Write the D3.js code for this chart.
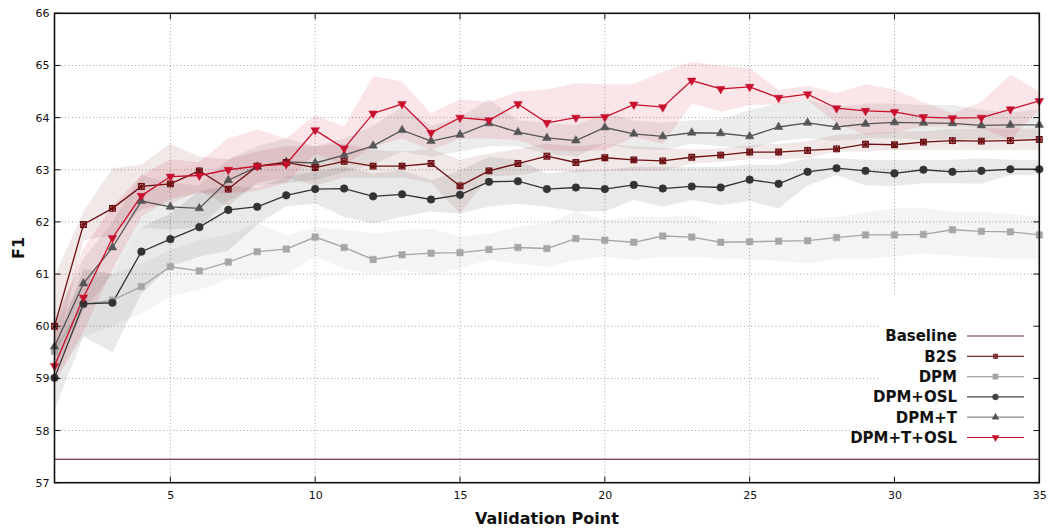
<!DOCTYPE html>
<html><head><meta charset="utf-8">
<script src="https://cdn.jsdelivr.net/npm/d3@7"></script>
<style>
html,body{margin:0;padding:0;background:#fff;}
svg{display:block;}
</style></head>
<body>
<svg id="chart" width="1049" height="529"></svg>
<script>
// ---------------- DATA ----------------
const points = d3.range(1, 36);
const xTicks = [5, 10, 15, 20, 25, 30, 35];
const yTicks = [57, 58, 59, 60, 61, 62, 63, 64, 65, 66];
const seriesNames = ["Baseline", "B2S", "DPM", "DPM+OSL", "DPM+T", "DPM+T+OSL"];

const baselineValue = 57.45;

const b2s = [60.0, 61.95, 62.26, 62.68, 62.73, 62.98, 62.63, 63.07, 63.14, 63.04, 63.16, 63.07, 63.07, 63.12, 62.69, 62.98, 63.12, 63.26, 63.14, 63.23, 63.19, 63.17, 63.24, 63.28, 63.34, 63.34, 63.37, 63.40, 63.49, 63.48, 63.53, 63.56, 63.55, 63.56, 63.58];
const b2sUpper = [60.95, 62.2, 63.03, 63.1, 63.5, 63.25, 63.2, 63.35, 63.45, 63.45, 63.5, 63.38, 63.35, 63.4, 63.19, 63.31, 63.4, 63.5, 63.45, 63.5, 63.45, 63.42, 63.39, 63.41, 63.47, 63.5, 63.55, 63.67, 63.7, 63.73, 63.74, 63.78, 63.79, 63.79, 63.79];
const b2sLower = [59.35, 61.65, 61.75, 62.25, 62.35, 62.6, 62.3, 62.75, 62.85, 62.7, 62.85, 62.85, 62.85, 62.75, 62.16, 62.87, 62.9, 62.99, 62.95, 62.98, 62.98, 62.98, 63.12, 63.15, 63.2, 63.2, 63.22, 63.35, 63.35, 63.38, 63.38, 63.38, 63.38, 63.38, 63.38];

const dpm = [59.52, 60.42, 60.50, 60.76, 61.14, 61.06, 61.23, 61.43, 61.48, 61.71, 61.51, 61.28, 61.37, 61.40, 61.41, 61.47, 61.51, 61.49, 61.68, 61.65, 61.61, 61.73, 61.71, 61.61, 61.62, 61.63, 61.64, 61.70, 61.75, 61.75, 61.76, 61.85, 61.82, 61.81, 61.75];
const dpmUpper = [60.0, 60.9, 61.0, 61.2, 61.46, 61.65, 61.75, 61.97, 61.75, 61.9, 61.85, 61.78, 61.84, 61.87, 61.72, 61.78, 61.91, 61.97, 62.2, 62.03, 62.1, 62.1, 62.13, 61.97, 62.0, 62.0, 62.05, 62.1, 62.18, 62.26, 62.26, 62.2, 62.2, 62.15, 62.1];
const dpmLower = [59.0, 59.8, 60.0, 60.25, 60.57, 60.7, 60.9, 60.9, 61.0, 61.33, 61.1, 61.01, 61.08, 60.98, 61.11, 61.27, 61.2, 61.14, 61.27, 61.33, 61.27, 61.33, 61.33, 61.3, 61.28, 61.25, 61.2, 61.3, 61.3, 61.33, 61.4, 61.35, 61.32, 61.3, 61.3];

const dpmOsl = [59.01, 60.43, 60.45, 61.43, 61.67, 61.90, 62.23, 62.29, 62.51, 62.63, 62.64, 62.49, 62.53, 62.43, 62.52, 62.77, 62.78, 62.63, 62.66, 62.63, 62.71, 62.64, 62.68, 62.66, 62.81, 62.73, 62.96, 63.03, 62.98, 62.93, 63.00, 62.96, 62.98, 63.01, 63.01];
const dpmOslUpper = [59.6, 61.1, 61.0, 61.9, 62.16, 62.6, 62.7, 62.65, 62.87, 62.96, 63.06, 62.93, 62.99, 62.8, 62.99, 63.25, 63.19, 62.93, 62.99, 62.99, 63.06, 63.06, 63.06, 63.06, 63.1, 63.1, 63.22, 63.22, 63.19, 63.19, 63.19, 63.19, 63.22, 63.19, 63.19];
const dpmOslLower = [58.4, 59.8, 59.5, 60.63, 61.15, 61.33, 61.45, 61.95, 62.3, 62.35, 62.1, 61.97, 62.1, 62.2, 62.16, 62.29, 62.35, 62.29, 62.2, 62.2, 62.42, 62.29, 62.42, 62.32, 62.4, 62.26, 62.7, 62.9, 62.7, 62.69, 62.74, 62.74, 62.73, 62.9, 62.9];

const dpmT = [59.61, 60.82, 61.51, 62.40, 62.29, 62.26, 62.80, 63.06, 63.15, 63.13, 63.28, 63.46, 63.76, 63.55, 63.67, 63.89, 63.72, 63.61, 63.56, 63.81, 63.69, 63.64, 63.71, 63.70, 63.64, 63.82, 63.90, 63.82, 63.88, 63.91, 63.90, 63.89, 63.85, 63.86, 63.86];
const dpmTUpper = [60.1, 61.3, 62.0, 62.9, 62.75, 62.7, 63.2, 63.45, 63.6, 63.45, 63.6, 63.85, 64.2, 63.85, 64.0, 64.35, 63.95, 63.9, 63.85, 64.1, 63.95, 63.9, 63.95, 63.97, 64.15, 64.27, 64.34, 64.2, 64.27, 64.27, 64.24, 64.24, 64.15, 64.1, 64.15];
const dpmTLower = [59.1, 60.3, 61.0, 61.9, 61.85, 61.9, 62.4, 62.7, 62.75, 62.8, 62.95, 63.1, 63.35, 63.25, 63.35, 63.45, 63.45, 63.3, 63.25, 63.5, 63.4, 63.38, 63.5, 63.45, 63.4, 63.55, 63.6, 63.55, 63.6, 63.6, 63.58, 63.58, 63.58, 63.6, 63.6];

const dpmTOsl = [59.24, 60.55, 61.69, 62.50, 62.87, 62.89, 63.00, 63.07, 63.11, 63.76, 63.41, 64.08, 64.26, 63.71, 64.00, 63.95, 64.26, 63.90, 64.00, 64.01, 64.25, 64.20, 64.71, 64.55, 64.59, 64.38, 64.45, 64.18, 64.13, 64.11, 64.01, 63.99, 64.00, 64.16, 64.32];
const dpmTOslUpper = [60.0, 61.5, 62.3, 62.9, 63.2, 63.15, 63.6, 63.77, 63.6, 64.05, 63.83, 64.8, 64.69, 64.08, 64.35, 64.3, 64.5, 64.54, 64.66, 64.64, 64.64, 64.88, 65.07, 64.99, 64.95, 64.53, 64.61, 64.47, 64.64, 64.54, 64.3, 64.08, 64.3, 64.82, 64.5];
const dpmTOslLower = [58.9, 59.9, 61.1, 62.1, 62.45, 62.55, 62.55, 62.6, 62.75, 63.3, 63.1, 63.44, 63.6, 63.38, 63.6, 63.6, 63.57, 63.38, 63.35, 63.38, 63.63, 63.5, 64.27, 64.11, 64.24, 64.25, 64.34, 63.89, 63.67, 63.72, 63.83, 63.83, 63.8, 63.57, 64.15];

// ---------------- LAYOUT ----------------
const L = 54.5, R = 1039.3, T = 13.3, B = 482.7;
const svg = d3.select("#chart");
const x = d3.scaleLinear().domain([1, 35]).range([L, R]);
const y = d3.scaleLinear().domain([57, 66]).range([B, T]);

// asterisk (box with star) symbol
const asterisk = {
  draw(ctx, size) {
    const r = Math.sqrt(size) / 2;
    const d = r * 0.8;
    ctx.moveTo(-r, 0); ctx.lineTo(r, 0);
    ctx.moveTo(0, -r); ctx.lineTo(0, r);
    ctx.moveTo(-d, -d); ctx.lineTo(d, d);
    ctx.moveTo(-d, d); ctx.lineTo(d, -d);
    ctx.moveTo(-d, -d); ctx.lineTo(d, -d); ctx.lineTo(d, d); ctx.lineTo(-d, d); ctx.closePath();
  }
};

const series = [
  {name: "DPM", vals: dpm, up: dpmUpper, lo: dpmLower, color: "#a6a6a6", band: "#000", bandOp: 0.045, sym: d3.symbolSquare, size: 42, filled: true, rot: 0},
  {name: "DPM+OSL", vals: dpmOsl, up: dpmOslUpper, lo: dpmOslLower, color: "#333333", band: "#000", bandOp: 0.085, sym: d3.symbolCircle, size: 46, filled: true, rot: 0},
  {name: "DPM+T", vals: dpmT, up: dpmTUpper, lo: dpmTLower, color: "#555555", band: "#000", bandOp: 0.075, sym: d3.symbolTriangle, size: 32, filled: true, rot: 0},
  {name: "B2S", vals: b2s, up: b2sUpper, lo: b2sLower, color: "#6e1115", band: "#7a1a1a", bandOp: 0.1, sym: asterisk, size: 52, filled: false, rot: 0},
  {name: "DPM+T+OSL", vals: dpmTOsl, up: dpmTOslUpper, lo: dpmTOslLower, color: "#c8102e", band: "#d0142f", bandOp: 0.11, sym: d3.symbolTriangle, size: 32, filled: true, rot: 180}
];

// ---------------- GRID ----------------
const grid = svg.append("g");
grid.selectAll("line.h").data(yTicks.filter(v => v > 57 && v < 66)).join("line")
  .attr("x1", L).attr("x2", R).attr("y1", d => y(d)).attr("y2", d => y(d))
  .attr("stroke", "#a0a0a0").attr("stroke-width", 1).attr("stroke-dasharray", "1,2.5");
grid.selectAll("line.v").data(xTicks.filter(v => v < 35)).join("line")
  .attr("x1", d => x(d)).attr("x2", d => x(d)).attr("y1", T).attr("y2", B)
  .attr("stroke", "#a0a0a0").attr("stroke-width", 1).attr("stroke-dasharray", "1,2.5");

// key box (opaque, covers grid)
svg.append("rect").attr("x", 878).attr("y", 295).attr("width", R - 878 - 1).attr("height", B - 295 - 1).attr("fill", "#fff");

// ---------------- BANDS ----------------
const area = d3.area().x((d, i) => x(points[i])).y0(d => y(d[0])).y1(d => y(d[1]));
const bands = svg.append("g");
series.forEach(s => {
  const dd = s.up.map((u, i) => [s.lo[i], u]);
  bands.append("path").datum(dd).attr("d", area).attr("fill", s.band).attr("fill-opacity", s.bandOp);
});

// ---------------- BASELINE ----------------
svg.append("line").attr("x1", L).attr("x2", R).attr("y1", y(baselineValue)).attr("y2", y(baselineValue))
  .attr("stroke", "#4a0d10").attr("stroke-width", 1.2);

// ---------------- LINES + MARKERS ----------------
const line = d3.line().x((d, i) => x(points[i])).y(d => y(d));
const lines = svg.append("g");
series.forEach(s => {
  lines.append("path").datum(s.vals).attr("d", line).attr("fill", "none")
    .attr("stroke", s.color).attr("stroke-width", 1.3);
});
series.forEach(s => {
  const sym = d3.symbol().type(s.sym).size(s.size);
  lines.append("g").selectAll("path").data(s.vals).join("path")
    .attr("transform", (d, i) => `translate(${x(points[i])},${y(d)}) rotate(${s.rot})`)
    .attr("d", sym)
    .attr("fill", s.filled ? s.color : "none")
    .attr("stroke", s.color).attr("stroke-width", s.filled ? 0.5 : 1.1);
});

// ---------------- FRAME & TICKS ----------------
const frame = svg.append("g");
frame.append("rect").attr("x", L).attr("y", T).attr("width", R - L).attr("height", B - T)
  .attr("fill", "none").attr("stroke", "#111").attr("stroke-width", 1.6);
yTicks.forEach(v => {
  frame.append("line").attr("x1", L).attr("x2", L + 6).attr("y1", y(v)).attr("y2", y(v)).attr("stroke", "#111");
  frame.append("line").attr("x1", R - 6).attr("x2", R).attr("y1", y(v)).attr("y2", y(v)).attr("stroke", "#111");
});
xTicks.forEach(v => {
  frame.append("line").attr("x1", x(v)).attr("x2", x(v)).attr("y1", B).attr("y2", B - 6).attr("stroke", "#111");
  frame.append("line").attr("x1", x(v)).attr("x2", x(v)).attr("y1", T).attr("y2", T + 6).attr("stroke", "#111");
});

// axes labels via d3 axes (text only)
const fontTick = "'DejaVu Sans', Verdana, sans-serif";
const yAxis = svg.append("g").attr("transform", `translate(${L},0)`)
  .call(d3.axisLeft(y).tickValues(yTicks).tickFormat(d3.format("d")).tickSize(0).tickPadding(5));
yAxis.select(".domain").remove();
yAxis.selectAll("text").attr("font-family", fontTick).attr("font-size", 11).attr("fill", "#111");

const xAxis = svg.append("g").attr("transform", `translate(0,${B})`)
  .call(d3.axisBottom(x).tickValues(xTicks).tickFormat(d3.format("d")).tickSize(0).tickPadding(9));
xAxis.select(".domain").remove();
xAxis.selectAll("text").attr("font-family", fontTick).attr("font-size", 11).attr("fill", "#111");

svg.append("text").attr("x", (L + R) / 2).attr("y", 524).attr("text-anchor", "middle")
  .attr("font-family", "'DejaVu Sans', sans-serif").attr("font-weight", "bold").attr("font-size", 16)
  .attr("fill", "#111").text("Validation Point");
svg.append("text").attr("transform", "translate(24,248) rotate(-90)").attr("text-anchor", "middle")
  .attr("font-family", "'DejaVu Sans', sans-serif").attr("font-weight", "bold").attr("font-size", 16)
  .attr("fill", "#111").text("F1");

// ---------------- LEGEND ----------------
const legendStyle = {
  "Baseline": {color: "#6b3a3c", sym: null},
  "B2S": {color: "#7a2a2e", sym: asterisk, size: 26, filled: false, rot: 0},
  "DPM": {color: "#a6a6a6", sym: d3.symbolSquare, size: 28, filled: true, rot: 0},
  "DPM+OSL": {color: "#444", sym: d3.symbolCircle, size: 28, filled: true, rot: 0},
  "DPM+T": {color: "#888", sym: d3.symbolTriangle, size: 20, filled: true, rot: 0, markColor: "#555"},
  "DPM+T+OSL": {color: "#c8102e", sym: d3.symbolTriangle, size: 20, filled: true, rot: 180}
};
const leg = svg.append("g");
seriesNames.forEach((n, i) => {
  const yy = 336 + i * 20.3;
  const st = legendStyle[n];
  leg.append("text").attr("x", 957).attr("y", yy).attr("dy", "0.36em").attr("text-anchor", "end")
    .attr("font-family", "'DejaVu Sans', sans-serif").attr("font-weight", "bold").attr("font-size", 15)
    .attr("fill", "#111").text(n);
  leg.append("line").attr("x1", 967).attr("x2", 1024).attr("y1", yy).attr("y2", yy)
    .attr("stroke", st.color).attr("stroke-width", 1.2);
  if (st.sym) {
    const mc = st.markColor || st.color;
    leg.append("path").attr("transform", `translate(995.5,${yy}) rotate(${st.rot})`)
      .attr("d", d3.symbol().type(st.sym).size(st.size))
      .attr("fill", st.filled ? mc : "none").attr("stroke", mc).attr("stroke-width", st.filled ? 0.5 : 1);
  }
});
</script>
</body></html>
